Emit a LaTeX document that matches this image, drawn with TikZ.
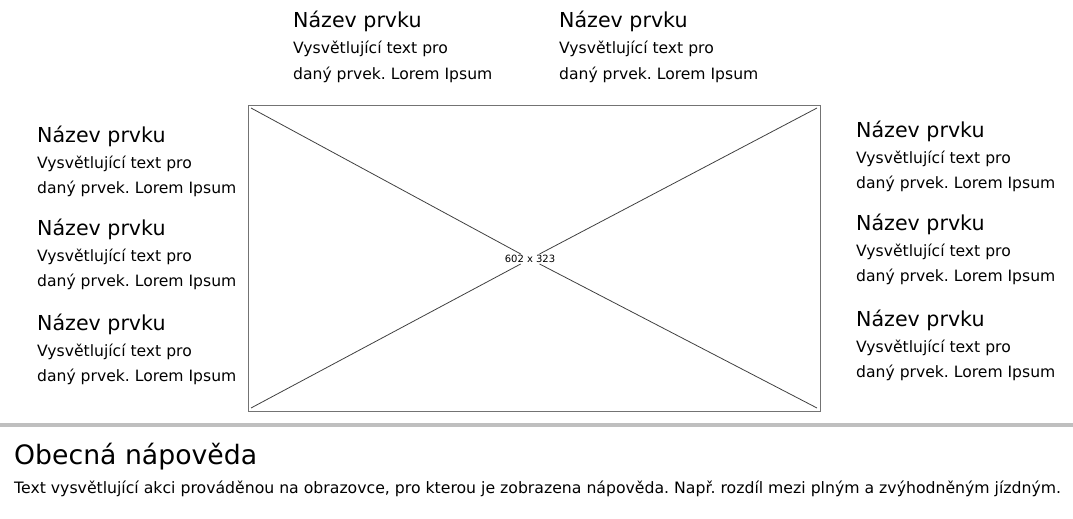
\documentclass[tikz,border=0pt]{standalone}
\usepackage{fontspec}
\setmainfont{DejaVu Sans}
\frenchspacing
\begin{document}
\begin{tikzpicture}[x=1pt,y=-1pt,
  ttl/.style={anchor=base west,inner sep=0pt,font=\fontsize{20.6}{20}\selectfont},
  txt/.style={anchor=base west,inner sep=0pt,font=\fontsize{15.6}{15}\selectfont},
  frame/.style={draw=black!55,line width=1pt},
  diag/.style={draw=black!75,line width=0.8pt}]
\useasboundingbox (0,0) rectangle (1073,519);
% image placeholder
\node[frame,minimum width=572pt,minimum height=306pt,inner sep=0pt,anchor=north west] (img) at (248,105) {};
\coordinate (tl) at (251,108);
\coordinate (tr) at (817,108);
\coordinate (bl) at (251,408);
\coordinate (br) at (817,408);
\node[fill=white,inner sep=1pt,font=\fontsize{10}{10}\selectfont] (dim) at (530,259) {602 x 323};
\draw[diag] (tl) -- (dim);
\draw[diag] (dim) -- (br);
\draw[diag] (tr) -- (dim);
\draw[diag] (dim) -- (bl);
% label groups
\foreach \n/\x/\y in {t1/293/28, t2/559/28, l1/37/142, l2/37/235, l3/37/330, r1/856/137, r2/856/230, r3/856/326}{
  \node[ttl] (\n a) at (\x,\y) {Název prvku};
  \node[txt] (\n b) at (\x,\y+26) {Vysvětlující text pro};
  \node[txt] (\n c) at (\x,\y+51) {daný prvek. Lorem Ipsum};
}
% separator
\fill[black!25] (0,423) rectangle (1073,427);
\node[anchor=base west,inner sep=0pt,font=\fontsize{26.7}{26}\selectfont] (gh) at (14,464) {Obecná nápověda};
\node[anchor=base west,inner sep=0pt,font=\fontsize{15.7}{15}\selectfont] (gt) at (14,493) {Text vysvětlující akci prováděnou na obrazovce, pro kterou je zobrazena nápověda. Např. rozdíl mezi plným a zvýhodněným jízdným.};
\end{tikzpicture}
\end{document}
